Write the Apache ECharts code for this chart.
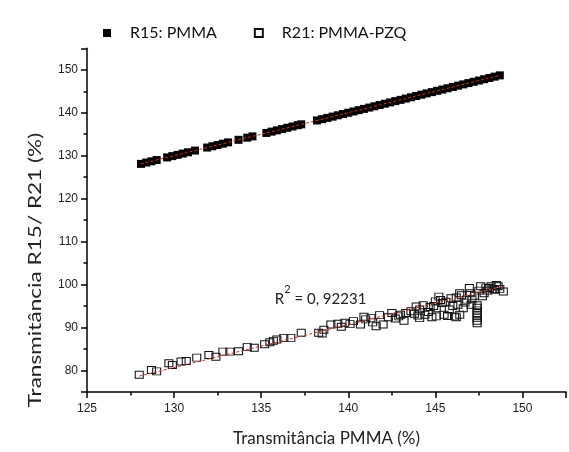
<!DOCTYPE html>
<html>
<head>
<meta charset="utf-8">
<script src="https://cdn.jsdelivr.net/npm/echarts@6/dist/echarts.min.js"></script>
<style>
  html, body { margin: 0; padding: 0; background: #ffffff; }
  #chart { width: 569px; height: 452px; }
</style>
</head>
<body>
<div id="chart"></div>
<script>
// Series names
const seriesNames = ['R15: PMMA', 'R21: PMMA-PZQ'];

// R15 (PMMA) transmittance against the PMMA reference
const r15X = [128.1, 128.4, 128.7, 129.0,
  129.6, 129.9, 130.2, 130.5, 130.8, 131.2,
  131.9, 132.2, 132.5, 132.8, 133.1,
  133.7, 134.2, 134.5,
  135.3, 135.6, 135.9, 136.2, 136.5, 136.8, 137.1, 137.3,
  138.2, 138.5, 138.8, 139.1, 139.4, 139.7, 140.0, 140.3, 140.6, 140.9,
  141.2, 141.5, 141.8, 142.1, 142.4, 142.7, 143.0, 143.3, 143.6, 143.9,
  144.2, 144.5, 144.8, 145.1, 145.4, 145.7, 146.0, 146.3, 146.6, 146.9,
  147.2, 147.5, 147.8, 148.1, 148.4, 148.7];
const r15Y = [128.1, 128.4, 128.7, 129.0,
  129.6, 129.9, 130.2, 130.5, 130.8, 131.2,
  131.9, 132.2, 132.5, 132.8, 133.1,
  133.7, 134.2, 134.5,
  135.3, 135.6, 135.9, 136.2, 136.5, 136.8, 137.1, 137.3,
  138.2, 138.5, 138.8, 139.1, 139.4, 139.7, 140.0, 140.3, 140.6, 140.9,
  141.2, 141.5, 141.8, 142.1, 142.4, 142.7, 143.0, 143.3, 143.6, 143.9,
  144.2, 144.5, 144.8, 145.1, 145.4, 145.7, 146.0, 146.3, 146.6, 146.9,
  147.2, 147.5, 147.8, 148.1, 148.4, 148.7];

// R21 (PMMA-PZQ) transmittance against the PMMA reference
const r21X = [128.0, 128.7, 129.0, 129.7, 129.9, 130.4, 130.7, 131.3, 132.0, 132.4,
  132.8, 133.2, 133.7, 134.2, 134.6, 135.2, 135.5, 135.7, 135.9, 136.3,
  136.7, 137.3, 138.3, 138.5, 138.6, 139.0, 139.4, 139.6, 139.8, 140.1,
  140.3, 140.7, 140.9, 141.0, 141.3, 141.4, 141.6, 141.8, 142.0, 142.3,
  142.5, 142.7, 142.9, 143.0, 143.2, 143.3, 143.6, 143.8, 143.9, 144.0,
  144.1, 144.1, 144.3, 144.4, 144.6, 144.7, 144.8, 144.9, 145.0, 145.05,
  145.05, 145.2, 145.3, 145.4, 145.5, 145.6, 145.7, 145.8, 145.9, 146.0,
  146.1, 146.2, 146.2, 146.3, 146.4, 146.4, 146.5, 146.6, 146.7, 146.8,
  146.95, 147.0, 147.05, 147.1, 147.25,
  147.4, 147.4, 147.4, 147.4, 147.4, 147.4, 147.4, 147.4,
  147.5, 147.6, 147.7, 147.8, 147.9, 148.0, 148.1, 148.2, 148.3, 148.4,
  148.5, 148.6, 148.7, 148.9];
const r21Y = [79.0, 80.1, 79.8, 81.7, 81.3, 82.1, 82.2, 83.0, 83.6, 83.2,
  84.4, 84.4, 84.5, 85.5, 85.3, 86.1, 86.6, 86.9, 87.2, 87.6,
  87.6, 88.8, 88.8, 88.6, 89.5, 90.7, 90.9, 90.2, 91.1, 90.8,
  91.5, 90.7, 92.5, 91.9, 92.2, 91.2, 90.3, 92.9, 90.7, 92.4,
  93.4, 92.1, 92.6, 93.0, 91.6, 93.4, 93.8, 93.2, 94.9, 92.8,
  94.2, 92.2, 95.2, 93.0, 93.6, 94.8, 92.4, 95.0, 96.1, 94.5,
  92.6, 97.2, 96.4, 95.7, 93.0, 96.0, 92.7, 94.2, 96.8, 95.0,
  92.6, 97.0, 92.4, 95.3, 98.0, 93.0, 97.5, 94.5, 95.8, 96.5,
  99.2, 98.0, 95.3, 96.6, 97.4,
  95.2, 94.6, 94.0, 93.4, 92.8, 92.2, 91.6, 91.0,
  98.6, 99.6, 97.3, 98.0, 99.3, 98.6, 99.2, 99.6, 99.0, 98.8,
  99.9, 99.6, 99.0, 98.4];

// Linear fit of R21 (slope, intercept) and its coefficient of determination
const r21Fit = [1.0, -49.3];
const fitLabel = ['R', '2', ' = 0, 92231'];

// Axis ranges
const xRange = [125, 152.5];
const yRange = [75, 155];

const xTitle = 'Transmitância PMMA (%)';
const yTitle = 'Transmitância R15/ R21 (%)';

function zip(xs, ys) { return xs.map((x, i) => [x, ys[i]]); }

// Least-squares straight line over the x extent of the data
function linearFit(xs, ys) {
  const n = xs.length;
  let sx = 0, sy = 0, sxx = 0, sxy = 0;
  for (let i = 0; i < n; i++) { sx += xs[i]; sy += ys[i]; sxx += xs[i] * xs[i]; sxy += xs[i] * ys[i]; }
  const slope = (n * sxy - sx * sy) / (n * sxx - sx * sx);
  return [slope, (sy - slope * sx) / n];
}
function fitSegment(xs, coef) {
  const x0 = Math.min(...xs), x1 = Math.max(...xs);
  return [[x0, coef[0] * x0 + coef[1]], [x1, coef[0] * x1 + coef[1]]];
}

const tickFont = 'Liberation Sans, Arial, sans-serif';
const textFont = 'Lato, Open Sans, sans-serif';
const axisColor = '#000';

const chart = echarts.init(document.getElementById('chart'), null, { renderer: 'canvas' });

const majorAxisBase = {
  type: 'value',
  axisLine: { show: true, onZero: false, lineStyle: { color: axisColor, width: 1.5 } },
  axisTick: { show: true, inside: false, length: 6, lineStyle: { color: axisColor, width: 1.5 } },
  splitLine: { show: false },
  minorTick: { show: false }
};
const minorAxisBase = {
  type: 'value',
  axisLine: { show: false },
  axisTick: { show: true, inside: false, length: 3.5, lineStyle: { color: axisColor, width: 1.5 } },
  axisLabel: { show: false },
  splitLine: { show: false }
};

const dashed = { color: '#e3242b', width: 1, type: [3, 2] };

chart.setOption({
  animation: false,
  backgroundColor: '#ffffff',
  grid: { left: 87, right: 2.4, top: 48.3, bottom: 57.3, containLabel: false },
  legend: {
    left: 98, top: 19,
    itemWidth: 8, itemHeight: 8, itemGap: 37,
    data: seriesNames,
    textStyle: { fontFamily: textFont, fontSize: 16, color: '#111', padding: [0, 0, 0, 14], lineHeight: 18 }
  },
  xAxis: [
    Object.assign({}, majorAxisBase, {
      min: xRange[0], max: xRange[1], interval: 5, position: 'bottom',
      axisLabel: {
        margin: 11, fontFamily: tickFont, fontSize: 12, color: '#222',
        formatter: v => (v % 5 === 0 ? String(v) : '')
      },
      name: xTitle, nameLocation: 'middle', nameGap: 38,
      nameTextStyle: { fontFamily: textFont, fontSize: 17, color: '#222' }
    }),
    Object.assign({}, minorAxisBase, { min: xRange[0], max: xRange[1], interval: 2.5, position: 'bottom' })
  ],
  yAxis: [
    Object.assign({}, majorAxisBase, {
      min: yRange[0], max: yRange[1], splitNumber: 8, position: 'left',
      axisLabel: {
        margin: 9, fontFamily: tickFont, fontSize: 12, color: '#222',
        formatter: v => (v % 10 === 0 && v > yRange[0] && v < yRange[1] ? String(v) : '')
      }
    }),
    Object.assign({}, minorAxisBase, { min: yRange[0], max: yRange[1], interval: 5, position: 'left' })
  ],
  series: [
    {
      name: seriesNames[0], type: 'scatter', xAxisIndex: 0, yAxisIndex: 0,
      symbol: 'rect', symbolSize: [8, 8],
      itemStyle: { color: '#000', opacity: 1 },
      emphasis: { disabled: true },
      data: zip(r15X, r15Y), z: 2
    },
    {
      name: seriesNames[1], type: 'scatter', xAxisIndex: 0, yAxisIndex: 0,
      symbol: 'rect', symbolSize: [8, 7],
      itemStyle: { color: 'rgba(255,255,255,0)', borderColor: '#111', borderWidth: 1, opacity: 1 },
      emphasis: { disabled: true },
      data: zip(r21X, r21Y), z: 2
    },
    {
      name: 'fit-r15', type: 'line', xAxisIndex: 0, yAxisIndex: 0,
      symbol: 'none', silent: true, lineStyle: dashed,
      data: fitSegment(r15X, linearFit(r15X, r15Y)), z: 5
    },
    {
      name: 'fit-r21', type: 'line', xAxisIndex: 0, yAxisIndex: 0,
      symbol: 'none', silent: true, lineStyle: dashed,
      data: fitSegment(r21X, r21Fit), z: 5
    }
  ]
});

// Axis title on the left and the R² note next to the R21 fit (anchored in data space)
const r2Pos = chart.convertToPixel({ xAxisIndex: 0, yAxisIndex: 0 }, [135.78, 97.5]);
chart.setOption({
  graphic: [
    {
      type: 'text', x: 36, y: 270, rotation: Math.PI / 2, scaleX: 1.33,
      style: {
        text: yTitle, font: '17px ' + textFont, fill: '#222',
        align: 'center', verticalAlign: 'middle', textAlign: 'center', textVerticalAlign: 'middle'
      }
    },
    {
      type: 'text', x: r2Pos[0], y: r2Pos[1],
      style: {
        text: '{b|' + fitLabel[0] + '}{s|' + fitLabel[1] + '}{b|' + fitLabel[2] + '}',
        verticalAlign: 'middle', textVerticalAlign: 'middle',
        rich: {
          b: { fontFamily: textFont, fontSize: 15, fill: '#222', color: '#222', verticalAlign: 'bottom', lineHeight: 22 },
          s: { fontFamily: textFont, fontSize: 11, fill: '#222', color: '#222', verticalAlign: 'top', lineHeight: 22 }
        }
      }
    }
  ]
});
</script>
</body>
</html>
